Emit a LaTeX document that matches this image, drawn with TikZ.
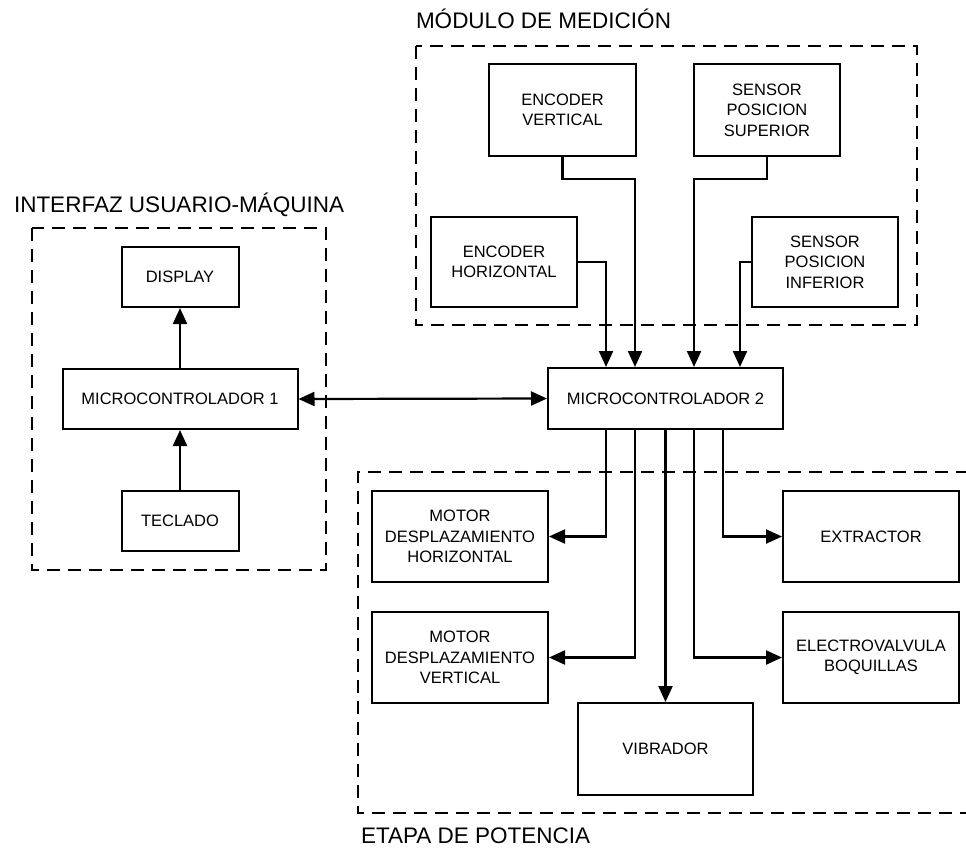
\documentclass[tikz,border=0pt]{standalone}
\usepackage{fontspec}
\setmainfont{Liberation Sans}
\usetikzlibrary{arrows.meta,calc}
\begin{document}
\begin{tikzpicture}[x=1pt,y=-1pt,
  line width=2pt,
  blk/.style={draw, rectangle, line width=2pt, inner sep=2pt, align=center,
    font=\fontsize{16.5}{20.5}\selectfont},
  grp/.style={draw, line width=2pt, dash pattern=on 13pt off 8pt},
  ttl/.style={anchor=base west, inner sep=0pt, font=\fontsize{22.5}{26}\selectfont},
  link/.style={draw, line width=2.2pt},
  arr/.style={link, -{Triangle[length=16pt,width=14pt]}},
  darr/.style={link, {Triangle[length=16pt,width=14pt]}-{Triangle[length=16pt,width=14pt]}}]

\useasboundingbox (0,0) rectangle (966,847);
\clip (0,0) rectangle (966,847);

% group frames and their titles
\draw[grp] (416,46) rectangle (917,325);
\node[ttl] (tmed) at (415,28) {MÓDULO DE MEDICIÓN};
\draw[grp] (32,228) rectangle (326,570);
\node[ttl] (tint) at (13,212) {INTERFAZ USUARIO-MÁQUINA};
\draw[grp] (990,472) -- (358,472) -- (358,813) -- (990,813);
\node[ttl] (tpot) at (360,843) {ETAPA DE POTENCIA};

% measuring module
\node[blk, minimum width=147pt, minimum height=92pt] (ev) at (562.5,110) {ENCODER\\VERTICAL};
\node[blk, minimum width=146pt, minimum height=92pt] (sps) at (767,110) {SENSOR\\POSICION\\SUPERIOR};
\node[blk, minimum width=146pt, minimum height=90pt] (eh) at (504,262) {ENCODER\\HORIZONTAL};
\node[blk, minimum width=146pt, minimum height=90pt] (spi) at (825,262) {SENSOR\\POSICION\\INFERIOR};

% user interface
\node[blk, minimum width=117pt, minimum height=60pt] (disp) at (180,277) {DISPLAY};
\node[blk, minimum width=235pt, minimum height=60pt] (mc1) at (180,399) {MICROCONTROLADOR 1};
\node[blk, minimum width=117pt, minimum height=60pt] (tec) at (180,521) {TECLADO};

% main controller
\node[blk, minimum width=235pt, minimum height=61pt] (mc2) at (665.5,398.5) {MICROCONTROLADOR 2};

% power stage
\node[blk, minimum width=176pt, minimum height=91pt] (mdh) at (460,536.5) {MOTOR\\DESPLAZAMIENTO\\HORIZONTAL};
\node[blk, minimum width=176pt, minimum height=91pt] (mdv) at (460,657.5) {MOTOR\\DESPLAZAMIENTO\\VERTICAL};
\node[blk, minimum width=175pt, minimum height=92pt] (vib) at (665.5,749) {VIBRADOR};
\node[blk, minimum width=176pt, minimum height=91pt] (ext) at (871,536.5) {EXTRACTOR};
\node[blk, minimum width=176pt, minimum height=91pt] (elv) at (871,657.5) {ELECTROVALVULA\\BOQUILLAS};

% sensor inputs
\draw[arr] (eh.east) -| ($(mc2.north west)+(59,0)$);
\draw[arr] (ev.south) -- ++(0,22) -| ($(mc2.north west)+(88,0)$);
\draw[arr] (sps.south) -- ++(0,22) -| ($(mc2.north west)+(147,0)$);
\draw[arr] (spi.west) -| ($(mc2.north west)+(193,0)$);

% interface links
\draw[arr] (mc1.north) -- (disp.south);
\draw[arr] (tec.north) -- (mc1.south);
\draw[darr] (mc1.east) -- (mc2.west);

% actuator outputs
\draw[arr] ($(mc2.south west)+(59,0)$) |- (mdh.east);
\draw[arr] ($(mc2.south west)+(88,0)$) |- (mdv.east);
\draw[arr] (mc2.south) -- (vib.north);
\draw[arr] ($(mc2.south west)+(147,0)$) |- (elv.west);
\draw[arr] ($(mc2.south west)+(176,0)$) |- (ext.west);
\end{tikzpicture}
\end{document}
